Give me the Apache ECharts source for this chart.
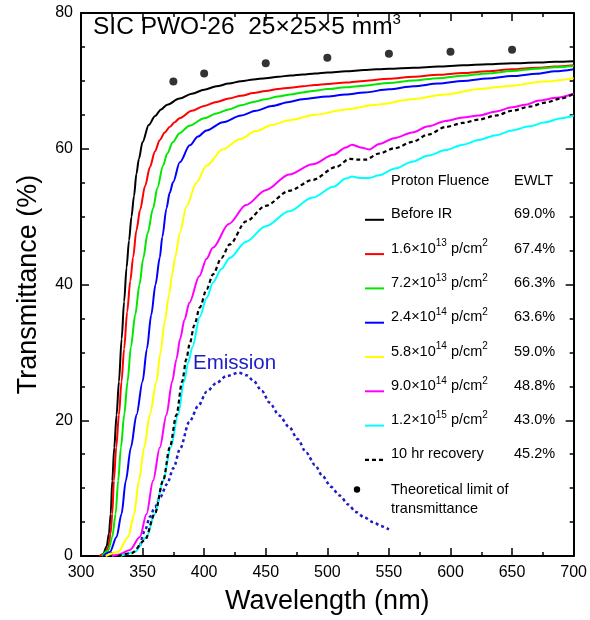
<!DOCTYPE html>
<html>
<head>
<meta charset="utf-8">
<script src="https://cdn.jsdelivr.net/npm/echarts@6/dist/echarts.min.js"></script>
<style>
html,body{margin:0;padding:0;background:#fff;}
#chart{width:590px;height:620px;}
</style>
</head>
<body>
<div id="chart"></div>
<script>
// ---- Data (wavelength nm, transmittance %) ----
const beforeIR = [[310,0],[315,0],[318,0.3],[320.8,1.4],[322.7,3.3],[324.1,6.2],[325.4,11.1],[327,16],[328.9,20.8],[330.8,25.7],[333,32],[335,37.5],[337,42.5],[339,46.5],[341,50],[343,53],[345,56.3],[347,58.5],[350,61],[355,63.5],[360,64.8],[365,65.8],[370,66.5],[380,67.4],[390,68.1],[400,68.7],[410,69.2],[420,69.6],[430,69.95],[440,70.2],[450,70.4],[460,70.6],[470,70.8],[480,70.95],[490,71.1],[500,71.25],[515,71.4],[530,71.6],[550,71.8],[570,71.95],[590,72.1],[610,72.3],[630,72.45],[650,72.6],[670,72.7],[685,72.8],[700,72.9]];
const fluence16e13 = [[315,0],[319,0.3],[322.1,1.2],[324,3.3],[325.4,6.2],[326.7,11.1],[328.6,16],[330.8,20.8],[332.9,25.7],[335,30.5],[337.5,36],[340,40.5],[342.3,44],[345,48],[348,51],[352,54.5],[356,57.3],[360,59.6],[364,61.3],[368,62.4],[372,63.2],[376,63.9],[380,64.5],[390,65.6],[400,66.3],[410,66.9],[420,67.4],[430,67.8],[440,68.2],[450,68.5],[460,68.8],[470,69.0],[480,69.2],[490,69.4],[500,69.55],[515,69.75],[530,70.0],[550,70.3],[570,70.6],[590,70.9],[610,71.15],[630,71.4],[650,71.7],[670,71.95],[685,72.1],[700,72.3]];
const fluence72e13 = [[317,0],[322.1,0.8],[325.4,2.8],[328.1,6.2],[330.2,11.1],[332.4,16],[335.1,20.8],[337.8,25.7],[340.5,30.8],[344,35.5],[347.5,40],[350.5,43.8],[354,47.5],[358.5,51.2],[362,54.2],[366.6,57.5],[370,59.3],[374.7,61.0],[380,62.3],[388,63.4],[400,64.5],[410,65.2],[420,65.8],[430,66.4],[440,66.9],[450,67.3],[460,67.7],[470,68.0],[480,68.3],[490,68.55],[500,68.8],[515,69.05],[530,69.3],[550,69.7],[570,70.05],[590,70.4],[610,70.75],[630,71.1],[650,71.45],[670,71.8],[685,72.0],[700,72.2]];
const fluence24e14 = [[318,0],[323.5,0.6],[328.9,2.8],[332.9,6.2],[336.4,11.1],[340.5,16],[345.1,20.8],[350,25.7],[353.5,30.5],[357,35.5],[360.5,40],[364,44],[366,47],[369.4,51.2],[372,53.5],[374.8,55.1],[380.2,58.0],[388.3,60.5],[395,61.8],[401.8,62.7],[415.3,63.9],[430,64.9],[442,65.6],[455,66.3],[469,66.9],[480,67.3],[500,67.7],[515,68.0],[530,68.3],[550,68.75],[570,69.2],[590,69.6],[610,70.0],[630,70.35],[650,70.7],[670,71.05],[685,71.4],[700,71.7]];
const fluence58e14 = [[320,0],[330.2,0.6],[338.3,2.8],[343.2,6.2],[347,11.1],[351.3,16],[355.9,20.8],[361.3,25.7],[364.5,30],[368,34.5],[371.5,38.5],[374,41.5],[376.5,44],[380.2,47.6],[385.6,51.5],[393.7,55.0],[401.8,57.5],[415,59.9],[429,61.4],[442,62.6],[455,63.5],[469,64.2],[490,65.0],[515,65.8],[540,66.5],[569,67.3],[596,68.0],[623,68.8],[650,69.3],[675,69.9],[700,70.4]];
const fluence90e14 = [[325,0],[330.2,0.2],[339.7,0.9],[347.8,2.8],[353.2,6.2],[358.5,11.1],[364,16],[369.4,20.8],[374,25.7],[377.5,29],[380.5,32],[384,34.8],[388,37.3],[396,41.2],[402,43.8],[407,45.4],[420,48.9],[434,51.7],[450,53.9],[469,56.2],[488,57.7],[505,59.1],[515,60.2],[520,60.6],[527,60.2],[534,59.9],[542,60.7],[555,61.6],[569,62.4],[582,63.3],[596,64.1],[610,64.6],[623,64.9],[637,65.5],[650,66.1],[661,66.5],[672,67.1],[686,67.5],[700,68.1]];
const fluence12e15 = [[332,0],[343.7,0.6],[353.2,2.8],[359.9,6.2],[366.7,11.1],[372.9,16],[378.8,20.8],[383.7,25.7],[387,28.5],[390.5,30.8],[396.4,35.2],[402,38],[407.2,40.3],[414,42.3],[420.7,43.9],[434,46.3],[450,48.6],[469,50.8],[488,52.8],[505,54.4],[515,55.6],[520,55.9],[526,55.7],[534,55.7],[542,56.1],[555,57.1],[569,58.1],[582,59.0],[596,59.8],[610,60.6],[623,61.3],[637,62.0],[650,62.7],[664,63.3],[677,63.9],[690,64.5],[700,64.9]];
const recovery10hr = [[330,0],[341,0.4],[351.8,2.3],[359.9,6.2],[366.7,11.1],[372.1,16],[377.5,20.8],[382.1,25.7],[385.5,29],[388.3,31.3],[392,34],[396.4,36.6],[402,39.3],[407.2,41.5],[414,43.9],[420.7,45.9],[434,49.3],[450,51.6],[469,53.8],[488,55.4],[507,57.3],[518,58.5],[525,58.4],[531,58.4],[542,59.3],[555,60.1],[569,61.0],[582,62.1],[596,63.2],[610,63.8],[623,64.3],[637,64.9],[650,65.6],[664,66.2],[677,66.8],[690,67.4],[700,68.1]];
const emission = [[348,1.5],[352,3.8],[356,5.8],[360,7.2],[364.4,8.7],[369.8,10.6],[375.2,13.0],[380.4,15.8],[388,19.8],[395.5,22.2],[402,24.2],[410,25.5],[418,26.5],[428,27.0],[435,26.6],[440,25.8],[447,24.3],[453,22.6],[461,20.7],[469,19.0],[476,17.2],[483,15.2],[490,13.4],[496,11.8],[503,10.2],[510,8.9],[517,7.6],[523,6.5],[530,5.7],[537,5.0],[544,4.4],[550,3.9]];
const theoreticalLimit = [[375,69.9],[400,71.1],[450,72.6],[500,73.4],[550,74.0],[600,74.3],[650,74.6]];

// legend content
const legendNames = ['Before IR', ['1.6×10','13',' p/cm','2'], ['7.2×10','13',' p/cm','2'], ['2.4×10','14',' p/cm','2'], ['5.8×10','14',' p/cm','2'], ['9.0×10','14',' p/cm','2'], ['1.2×10','15',' p/cm','2'], '10 hr recovery'];
const ewlt = ['69.0%','67.4%','66.3%','63.6%','59.0%','48.8%','43.0%','45.2%'];
const xTicks = {min:300, max:700, step:50};
const yTicks = {min:0, max:80, step:20};

const colors = ['#000000','#ff0000','#00e800','#0000ff','#ffff00','#ff00ff','#00ffff','#000000'];
const FONT = 'Liberation Sans, Arial, sans-serif';

const chart = echarts.init(document.getElementById('chart'), null, {renderer:'canvas'});

function lineSeries(data, color, dash, width){
  return {type:'line', data, showSymbol:false, smooth:0.3, smoothMonotone:'x', silent:true,
    lineStyle:{color, width: width||2, type: dash||'solid'}, animation:false};
}

const series = [
  lineSeries(emission, '#1c1cc8', [3,3], 2.5),
  lineSeries(beforeIR, colors[0]),
  lineSeries(fluence16e13, colors[1]),
  lineSeries(fluence72e13, colors[2]),
  lineSeries(fluence24e14, colors[3]),
  lineSeries(fluence58e14, colors[4]),
  lineSeries(fluence90e14, colors[5]),
  lineSeries(fluence12e15, colors[6]),
  lineSeries(recovery10hr, colors[7], [4,3], 2.2),
  {type:'scatter', data: theoreticalLimit, symbolSize:8, itemStyle:{color:'#000'}, silent:true, animation:false}
];

const axisCommon = {
  type:'value', splitLine:{show:false},
  axisLine:{show:true, onZero:false, lineStyle:{color:'#000', width:2}},
  axisTick:{show:true, inside:true, length:8, lineStyle:{color:'#000', width:1.5}},
  minorTick:{show:true, length:4, lineStyle:{color:'#000', width:1.5}},
  minorSplitLine:{show:false}
};

// legend graphics
const graphics = [];
const lx0 = 365, lx1 = 384, tx = 391, vx = 514, y0 = 214.3, dy = 34.3;
const richBase = {
  n:{fontSize:14.5, fontFamily:FONT, fill:'#000', lineHeight:20, verticalAlign:'middle'},
  s:{fontSize:10, fontFamily:FONT, fill:'#000', lineHeight:12, verticalAlign:'top'}
};
graphics.push({type:'text', x:tx, y:181, style:{text:'Proton Fluence', fontSize:14.5, fontFamily:FONT, fill:'#000', verticalAlign:'middle'}});
graphics.push({type:'text', x:vx, y:181, style:{text:'EWLT', fontSize:14.5, fontFamily:FONT, fill:'#000', verticalAlign:'middle'}});
legendNames.forEach((nm, i) => {
  const y = y0 + dy*i;
  const dashed = i === 7;
  graphics.push({type:'line', shape:{x1:lx0, y1:y+5.5, x2:lx1, y2:y+5.5},
    style:{stroke:colors[i], lineWidth: dashed ? 2.2 : 2, lineDash: dashed ? [4,3] : null}});
  let txt;
  if (Array.isArray(nm)) {
    txt = '{n|' + nm[0] + '}{s|' + nm[1] + '}{n|' + nm[2] + '}{s|' + nm[3] + '}';
  } else {
    txt = '{n|' + nm + '}';
  }
  graphics.push({type:'text', x:tx, y:y, style:{text:txt, rich:richBase, verticalAlign:'middle'}});
  graphics.push({type:'text', x:vx, y:y, style:{text:ewlt[i], fontSize:14.5, fontFamily:FONT, fill:'#000', verticalAlign:'middle'}});
});
graphics.push({type:'circle', shape:{cx:357, cy:489.5, r:3.2}, style:{fill:'#000'}});
graphics.push({type:'text', x:tx, y:489.5, style:{text:'Theoretical limit of', fontSize:14.5, fontFamily:FONT, fill:'#000', verticalAlign:'middle'}});
graphics.push({type:'text', x:tx, y:508.5, style:{text:'transmittance', fontSize:14.5, fontFamily:FONT, fill:'#000', verticalAlign:'middle'}});
// title
graphics.push({type:'text', x:93, y:27, style:{
  text:'{t|SIC PWO-26  25×25×5 mm}{u|3}',
  verticalAlign:'middle',
  rich:{t:{fontSize:24.5, fontFamily:FONT, fill:'#000', lineHeight:30, verticalAlign:'middle'},
        u:{fontSize:15, fontFamily:FONT, fill:'#000', lineHeight:18, verticalAlign:'top'}}
}});
// emission label
graphics.push({type:'text', x:193, y:363, style:{text:'Emission', fontSize:20.5, fontFamily:FONT, fill:'#1c1cc8', verticalAlign:'middle'}});

const option = {
  backgroundColor:'#fff',
  animation:false,
  grid:{left:81, right:15, top:13, bottom:59, containLabel:false},
  xAxis:[
    Object.assign({}, axisCommon, {position:'bottom', min:xTicks.min, max:xTicks.max, interval:xTicks.step,
      minorTick:Object.assign({}, axisCommon.minorTick, {splitNumber:2}),
      axisLabel:{color:'#000', fontSize:16, fontFamily:FONT, margin:9},
      name:'Wavelength (nm)', nameLocation:'middle', nameGap:32,
      nameTextStyle:{fontSize:27, color:'#000', fontFamily:FONT}}),
    Object.assign({}, axisCommon, {position:'top', min:xTicks.min, max:xTicks.max, interval:xTicks.step,
      minorTick:Object.assign({}, axisCommon.minorTick, {splitNumber:2}),
      axisLabel:{show:false}})
  ],
  yAxis:[
    Object.assign({}, axisCommon, {position:'left', min:yTicks.min, max:yTicks.max, interval:yTicks.step,
      minorTick:Object.assign({}, axisCommon.minorTick, {splitNumber:4}),
      axisLabel:{color:'#000', fontSize:16, fontFamily:FONT, margin:8},
      name:'Transmittance (%)', nameLocation:'middle', nameGap:39, nameRotate:90,
      nameTextStyle:{fontSize:27, color:'#000', fontFamily:FONT}}),
    Object.assign({}, axisCommon, {position:'right', min:yTicks.min, max:yTicks.max, interval:yTicks.step,
      minorTick:Object.assign({}, axisCommon.minorTick, {splitNumber:4}),
      axisLabel:{show:false}})
  ],
  series: series,
  graphic: graphics
};
chart.setOption(option);
</script>
</body>
</html>
